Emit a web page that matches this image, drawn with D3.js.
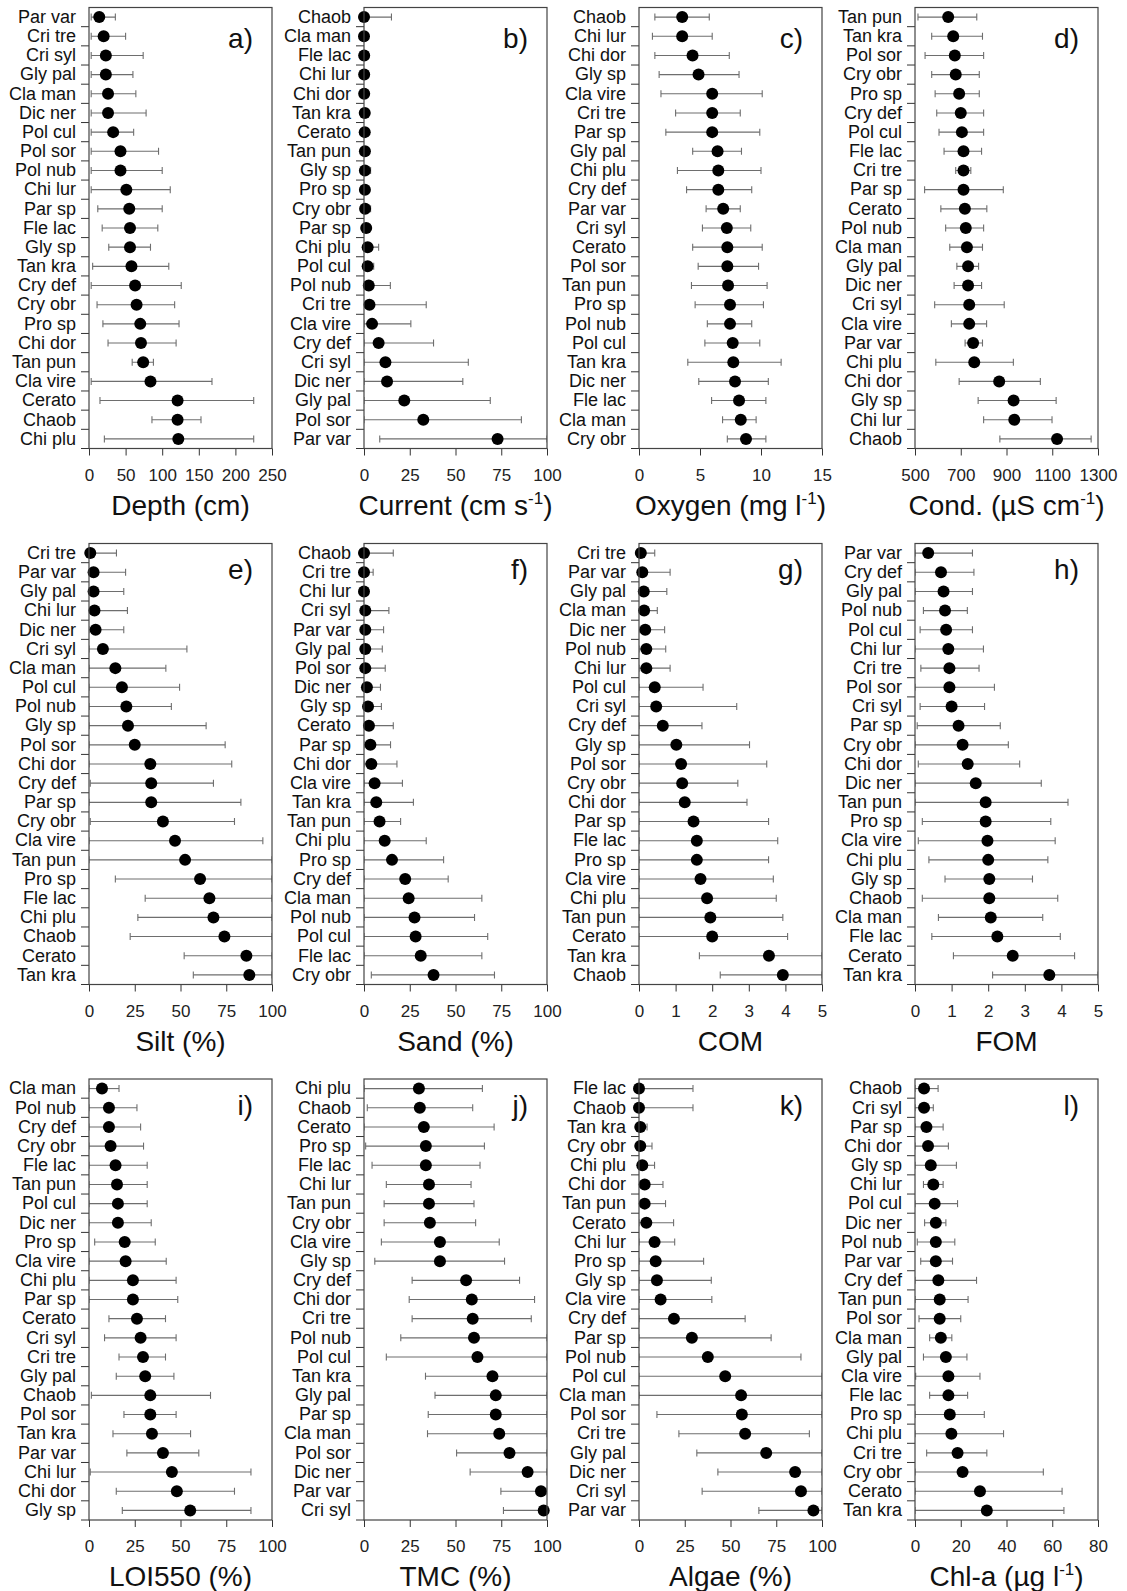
<!DOCTYPE html>
<html>
<head>
<meta charset="utf-8">
<script src="https://cdn.jsdelivr.net/npm/d3@7"></script>
<style>
  body { margin: 0; background: #fff; }
  svg text { font-family: "Liberation Sans", Arial, sans-serif; }
</style>
</head>
<body>
<div id="chart"></div>
<script>

// a) Depth
var depthSp   = ["Par var","Cri tre","Cri syl","Gly pal","Cla man","Dic ner","Pol cul","Pol sor","Pol nub","Chi lur","Par sp","Fle lac","Gly sp","Tan kra","Cry def","Cry obr","Pro sp","Chi dor","Tan pun","Cla vire","Cerato","Chaob","Chi plu"];
var depthMean = [14,20,23,23,26,26,33,43,43,51,55,56,56,58,63,65,70,71,74,84,121,121,122];
var depthLo   = [3,3,3,3,3,3,3,3,3,3,12,18,27,5,3,11,19,26,59,3,15,86,21];
var depthHi   = [36,50,74,60,64,78,61,95,100,111,100,94,84,109,126,117,123,119,88,168,225,153,225];

// b) Current
var currSp   = ["Chaob","Cla man","Fle lac","Chi lur","Chi dor","Tan kra","Cerato","Tan pun","Gly sp","Pro sp","Cry obr","Par sp","Chi plu","Pol cul","Pol nub","Cri tre","Cla vire","Cry def","Cri syl","Dic ner","Gly pal","Pol sor","Par var"];
var currMean = [0,0,0.1,0.1,0.1,0.4,0.4,0.5,0.5,0.5,0.6,1.2,2,2,2.6,3,4.4,8,11.7,12.6,22,32.4,73];
var currLo   = [0,0,0,0,0,0,0,0,0,0,0,0,0,0,0,0,0,0,0,0,0,0,8.6];
var currHi   = [15,0,0.1,0.1,0.1,0.8,0.8,2,3.6,2.5,3.6,3,8,5.3,14.4,34,25.6,38,57,54,69,86,100];

// c) Oxygen
var oxySp   = ["Chaob","Chi lur","Chi dor","Gly sp","Cla vire","Cri tre","Par sp","Gly pal","Chi plu","Cry def","Par var","Cri syl","Cerato","Pol sor","Tan pun","Pro sp","Pol nub","Pol cul","Tan kra","Dic ner","Fle lac","Cla man","Cry obr"];
var oxyMean = [3.54,3.54,4.39,4.88,6.0,6.0,6.0,6.44,6.5,6.5,6.9,7.2,7.24,7.24,7.3,7.46,7.46,7.68,7.73,7.87,8.2,8.34,8.77];
var oxyLo   = [1.3,1.1,1.3,1.65,1.8,3.0,2.2,4.4,3.15,3.9,5.5,5.2,4.4,4.85,4.3,4.6,5.6,5.4,4.0,4.9,5.95,6.85,7.24];
var oxyHi   = [5.76,6.0,7.4,8.2,10.1,8.3,9.9,8.4,10.0,9.24,8.3,9.16,10.1,9.8,10.5,10.2,9.24,9.9,11.65,10.6,10.4,9.6,10.4];

// d) Conductivity
var condSp   = ["Tan pun","Tan kra","Pol sor","Cry obr","Pro sp","Cry def","Pol cul","Fle lac","Cri tre","Par sp","Cerato","Pol nub","Cla man","Gly pal","Dic ner","Cri syl","Cla vire","Par var","Chi plu","Chi dor","Gly sp","Chi lur","Chaob"];
var condMean = [645,667,674,678,693,700,705,712,712,712,718,722,727,732,732,737,737,754,759,868,931,934,1121];
var condLo   = [513,573,544,573,588,595,605,627,678,542,613,634,652,683,671,586,659,719,591,693,776,800,871];
var condHi   = [770,795,800,781,781,800,800,791,744,886,814,800,795,778,791,890,813,795,930,1048,1117,1099,1270];

// e) Silt
var siltSp   = ["Cri tre","Par var","Gly pal","Chi lur","Dic ner","Cri syl","Cla man","Pol cul","Pol nub","Gly sp","Pol sor","Chi dor","Cry def","Par sp","Cry obr","Cla vire","Tan pun","Pro sp","Fle lac","Chi plu","Chaob","Cerato","Tan kra"];
var siltMean = [0.7,2.5,2.5,3,3.6,7.6,14.4,18,20.4,21.3,25,33.5,34,34,40.4,47,52.5,60.7,65.8,68,74,86,87.6];
var siltLo   = [0,0,0,0,0,0,0,0,0,0,0,0,0.7,0,0.7,0,0,14.4,30.7,26.7,22.5,52,57];
var siltHi   = [15,20,19,21,19,53.5,42,49.5,45,64,74.4,78,68,83,79.5,95,100,100,100,100,100,100,100];

// f) Sand
var sandSp   = ["Chaob","Cri tre","Chi lur","Cri syl","Par var","Gly pal","Pol sor","Dic ner","Gly sp","Cerato","Par sp","Chi dor","Cla vire","Tan kra","Tan pun","Chi plu","Pro sp","Cry def","Cla man","Pol nub","Pol cul","Fle lac","Cry obr"];
var sandMean = [0,0,0,0.7,0.7,0.7,0.7,1.6,2.2,2.7,3.5,4,5.8,6.7,8.5,11.3,15.3,22.5,24.4,27.6,28.2,31,38];
var sandLo   = [0,0,0,0,0,0,0,0,0,0,0,0,0,0,0,0,0,0,0,0,0,0,4];
var sandHi   = [16,5,0,13.6,10.7,10,11.6,9,9.5,16,14.5,18,21,27,20,34,43.5,46,64.4,60.4,67.6,64.4,71.3];

// g) COM
var comSp   = ["Cri tre","Par var","Gly pal","Cla man","Dic ner","Pol nub","Chi lur","Pol cul","Cri syl","Cry def","Gly sp","Pol sor","Cry obr","Chi dor","Par sp","Fle lac","Pro sp","Cla vire","Chi plu","Tan pun","Cerato","Tan kra","Chaob"];
var comMean = [0.05,0.09,0.13,0.14,0.17,0.2,0.2,0.43,0.47,0.65,1.02,1.15,1.18,1.25,1.49,1.58,1.58,1.68,1.86,1.95,2.0,3.55,3.93];
var comLo   = [0,0,0,0,0,0,0,0,0,0,0,0,0,0,0,0,0,0,0,0,0,1.65,2.22];
var comHi   = [0.43,0.85,0.76,0.5,0.7,0.73,0.85,1.75,2.67,1.72,3.02,3.49,2.7,2.95,3.54,3.79,3.54,3.67,3.75,3.93,4.06,5,5];

// h) FOM
var fomSp   = ["Par var","Cry def","Gly pal","Pol nub","Pol cul","Chi lur","Cri tre","Pol sor","Cri syl","Par sp","Cry obr","Chi dor","Dic ner","Tan pun","Pro sp","Cla vire","Chi plu","Gly sp","Chaob","Cla man","Fle lac","Cerato","Tan kra"];
var fomMean = [0.36,0.71,0.78,0.82,0.85,0.91,0.94,0.94,1.0,1.19,1.3,1.44,1.66,1.93,1.93,1.98,2.0,2.03,2.03,2.07,2.25,2.67,3.67];
var fomLo   = [0,0,0,0.23,0.14,0,0.16,0,0.14,0.06,0,0.09,0,0,0.2,0.09,0.38,0.82,0.2,0.64,0.46,1.05,2.12];
var fomHi   = [1.57,1.61,1.57,1.43,1.57,1.87,1.75,2.17,1.9,2.33,2.55,2.86,3.45,4.18,3.71,3.83,3.63,3.21,3.9,3.49,3.97,4.36,5];

// i) LOI550
var loiSp   = ["Cla man","Pol nub","Cry def","Cry obr","Fle lac","Tan pun","Pol cul","Dic ner","Pro sp","Cla vire","Chi plu","Par sp","Cerato","Cri syl","Cri tre","Gly pal","Chaob","Pol sor","Tan kra","Par var","Chi lur","Chi dor","Gly sp"];
var loiMean = [7.1,10.9,10.9,11.8,14.5,15.3,15.8,15.8,19.5,20,24,24,26.2,28.2,29.5,30.7,33.5,33.5,34.4,40.4,45.3,48,55.3];
var loiLo   = [0,0,0,0,0,0,0,0,3.1,0,0,0,10.9,8.5,16.4,14.9,1.3,19.1,13.1,20.7,0.7,14.9,18.2];
var loiHi   = [16.4,26.2,28.2,29.8,31.8,31.8,31.8,34,36.2,42.2,47.6,48.5,41.8,47.6,41.8,46.4,66.4,47.6,55.5,60,88.5,79.5,88.5];

// j) TMC
var tmcSp   = ["Chi plu","Chaob","Cerato","Pro sp","Fle lac","Chi lur","Tan pun","Cry obr","Cla vire","Gly sp","Cry def","Chi dor","Cri tre","Pol nub","Pol cul","Tan kra","Gly pal","Par sp","Cla man","Pol sor","Dic ner","Par var","Cri syl"];
var tmcMean = [30,30.5,32.7,33.8,33.8,35.5,35.5,36,41.5,41.5,55.8,58.9,59.4,60.1,62,70.2,72,72,73.9,79.5,89.4,96.7,98.2];
var tmcLo   = [0,1.8,0,0.9,4.4,12.2,11,11,9.5,5.9,26.3,24.7,26.3,20.1,12.2,33.6,38.8,35.1,34.7,50.6,58,74.8,76.2];
var tmcHi   = [64.7,59.4,71.1,65.8,63.4,58.5,60.1,61,73.9,76.8,85,93.2,91.4,100,100,100,100,100,100,100,100,100,100];

// k) Algae
var algSp   = ["Fle lac","Chaob","Tan kra","Cry obr","Chi plu","Chi dor","Tan pun","Cerato","Chi lur","Pro sp","Gly sp","Cla vire","Cry def","Par sp","Pol nub","Pol cul","Cla man","Pol sor","Cri tre","Gly pal","Dic ner","Cri syl","Par var"];
var algMean = [0,0,0.7,0.7,1.8,3.1,3.1,4,8.5,9.1,9.8,11.8,19.1,28.9,37.6,47.1,55.8,56.2,58,69.5,85.3,88.5,95.3];
var algLo   = [0,0,0,0,0,0,0,0,0,0,0,0,0,0,0,0,0,9.8,21.8,31.6,43.1,34.5,65.5];
var algHi   = [29.5,29.5,4.4,7.1,8.5,13.1,14.5,18.9,19.5,35.3,39.5,39.8,58,72.2,88.5,100,100,100,93.1,100,100,100,100];

// l) Chl-a
var chlSp   = ["Chaob","Cri syl","Par sp","Chi dor","Gly sp","Chi lur","Pol cul","Dic ner","Pol nub","Par var","Cry def","Tan pun","Pol sor","Cla man","Gly pal","Cla vire","Fle lac","Pro sp","Chi plu","Cri tre","Cry obr","Cerato","Tan kra"];
var chlMean = [3.95,3.95,5,5.7,6.9,8,8.6,9.1,9.1,9.1,10.2,10.8,10.8,11.3,13.5,14.6,14.6,15.2,15.9,18.6,20.8,28.4,31.4];
var chlLo   = [0,0,0,0,0,3.7,0,4.2,1,2.5,0,0,1.75,6.4,3.7,0.3,6.4,0,0,5.1,0,0,0];
var chlHi   = [10.1,8,12.3,14.6,18.1,12.3,18.6,13.5,17.4,16.4,26.9,23.2,20,16.1,22.7,28.4,23,30.3,38.7,31.4,56.1,64.3,65.1];

// axis tick labels
var pctTicks = [0,25,50,75,100];
var depthTicks = [0,50,100,150,200,250];
var oxyTicks = [0,5,10,15];
var condTicks = [500,700,900,1100,1300];
var omTicks = [0,1,2,3,4,5];
var chlTicks = [0,20,40,60,80];

// title: [main text, superscript, closing text]
var panels = [
  {tag:"a)", title:["Depth (cm)"], dom:[0,250], ticks:depthTicks, sp:depthSp, m:depthMean, lo:depthLo, hi:depthHi},
  {tag:"b)", title:["Current (cm s","-1",")"], dom:[0,100], ticks:pctTicks, sp:currSp, m:currMean, lo:currLo, hi:currHi},
  {tag:"c)", title:["Oxygen (mg l","-1",")"], dom:[0,15], ticks:oxyTicks, sp:oxySp, m:oxyMean, lo:oxyLo, hi:oxyHi},
  {tag:"d)", title:["Cond. (µS cm","-1",")"], dom:[500,1300], ticks:condTicks, sp:condSp, m:condMean, lo:condLo, hi:condHi},
  {tag:"e)", title:["Silt (%)"], dom:[0,100], ticks:pctTicks, sp:siltSp, m:siltMean, lo:siltLo, hi:siltHi},
  {tag:"f)", title:["Sand (%)"], dom:[0,100], ticks:pctTicks, sp:sandSp, m:sandMean, lo:sandLo, hi:sandHi},
  {tag:"g)", title:["COM"], dom:[0,5], ticks:omTicks, sp:comSp, m:comMean, lo:comLo, hi:comHi},
  {tag:"h)", title:["FOM"], dom:[0,5], ticks:omTicks, sp:fomSp, m:fomMean, lo:fomLo, hi:fomHi},
  {tag:"i)", title:["LOI550 (%)"], dom:[0,100], ticks:pctTicks, sp:loiSp, m:loiMean, lo:loiLo, hi:loiHi},
  {tag:"j)", title:["TMC (%)"], dom:[0,100], ticks:pctTicks, sp:tmcSp, m:tmcMean, lo:tmcLo, hi:tmcHi},
  {tag:"k)", title:["Algae (%)"], dom:[0,100], ticks:pctTicks, sp:algSp, m:algMean, lo:algLo, hi:algHi},
  {tag:"l)", title:["Chl-a (µg l","-1",")"], dom:[0,80], ticks:chlTicks, sp:chlSp, m:chlMean, lo:chlLo, hi:chlHi}
];

var colX = [89, 364, 639, 915];
var rowY = [7.5, 543.5, 1079];
var W = 183, H = 441;
var tagRow = [1.6, 1.35, 1.35];

var svg = d3.select("#chart").append("svg")
    .attr("width", 1127)
    .attr("height", 1591);

panels.forEach(function(p, k) {
    var r = Math.floor(k / 4);
    var px = colX[k % 4], py = rowY[r];
    var g = svg.append("g").attr("transform", "translate(" + px + "," + py + ")");

    var x = d3.scaleLinear().domain(p.dom).range([0, W]);
    var y = d3.scaleBand().domain(p.sp).range([0, H]);
    var bw = y.bandwidth();

    var rows = p.sp.map(function(s, i) {
        return {sp: s, m: p.m[i], lo: p.lo[i], hi: p.hi[i]};
    });

    var clipId = "clip" + k;
    g.append("clipPath").attr("id", clipId)
        .append("rect").attr("x", 0).attr("y", 0).attr("width", W).attr("height", H);

    // x axis
    var xa = g.append("g").attr("transform", "translate(0," + H + ")")
        .call(d3.axisBottom(x).tickValues(p.ticks).tickFormat(function(d) { return d; })
            .tickSize(7).tickPadding(13).tickSizeOuter(0));
    xa.select(".domain").remove();
    xa.selectAll("text").style("font-size", "17px").attr("fill", "#222");
    xa.selectAll("line").attr("stroke", "#333");

    // y labels
    var ya = g.append("g")
        .call(d3.axisLeft(y).tickSize(0).tickPadding(13));
    ya.select(".domain").remove();
    ya.selectAll("text").style("font-size", "18px").attr("fill", "#111");

    // y boundary ticks
    g.selectAll(".bt").data(p.sp).enter().append("line")
        .attr("x1", -8).attr("x2", 0)
        .attr("y1", function(d) { return y(d) + bw; })
        .attr("y2", function(d) { return y(d) + bw; })
        .attr("stroke", "#333");

    var plot = g.append("g").attr("clip-path", "url(#" + clipId + ")");

    // error bars
    var eb = plot.selectAll(".eb").data(rows).enter().append("g");
    eb.append("line")
        .attr("x1", function(d) { return x(d.lo); })
        .attr("x2", function(d) { return x(d.hi); })
        .attr("y1", function(d) { return y(d.sp) + bw / 2; })
        .attr("y2", function(d) { return y(d.sp) + bw / 2; })
        .attr("stroke", "#6e6e6e").attr("stroke-width", 1.1);
    ["lo", "hi"].forEach(function(e) {
        eb.filter(function(d) { return d.hi > d.lo; }).append("line")
            .attr("x1", function(d) { return x(d[e]); })
            .attr("x2", function(d) { return x(d[e]); })
            .attr("y1", function(d) { return y(d.sp) + bw / 2 - 3.5; })
            .attr("y2", function(d) { return y(d.sp) + bw / 2 + 3.5; })
            .attr("stroke", "#6e6e6e").attr("stroke-width", 1.1);
    });

    // means
    g.selectAll(".dot").data(rows).enter().append("circle")
        .attr("cx", function(d) { return x(d.m); })
        .attr("cy", function(d) { return y(d.sp) + bw / 2; })
        .attr("r", 6)
        .attr("fill", "#000");

    // frame
    g.append("rect")
        .attr("x", 0).attr("y", 0).attr("width", W).attr("height", H)
        .attr("fill", "none").attr("stroke", "#444").attr("stroke-width", 1.2);

    // panel letter
    g.append("text").text(p.tag)
        .attr("x", W - 19)
        .attr("y", y.step() * tagRow[r] + 10)
        .attr("text-anchor", "end")
        .style("font-size", "28px")
        .attr("fill", "#111");

    // axis title
    var t = g.append("text")
        .attr("x", W / 2).attr("y", H + 66)
        .attr("text-anchor", "middle")
        .style("font-size", "28px")
        .attr("fill", "#111");
    t.append("tspan").text(p.title[0]);
    if (p.title.length > 1) {
        t.append("tspan").text(p.title[1]).attr("dy", -11).style("font-size", "17px");
        t.append("tspan").text(p.title[2]).attr("dy", 11);
    }
});

</script>
</body>
</html>
